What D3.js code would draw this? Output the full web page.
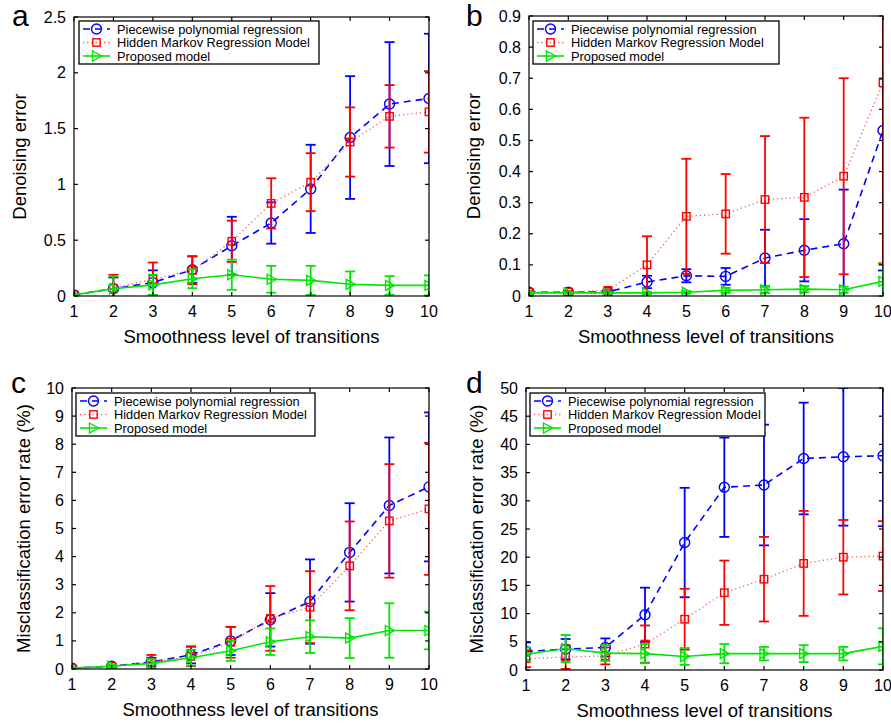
<!DOCTYPE html>
<html>
<head>
<meta charset="utf-8">
<script src="https://cdn.jsdelivr.net/npm/d3@7"></script>
<style>
  body { margin: 0; background: #fff; }
  svg { display: block; font-family: "Liberation Sans", Arial, sans-serif; }
</style>
</head>
<body>
<svg id="chart" width="891" height="723"></svg>
<script>
// Smoothness levels (x axis)
const levels = [1, 2, 3, 4, 5, 6, 7, 8, 9, 10];
const seriesNames = ["Piecewise polynomial regression", "Hidden Markov Regression Model", "Proposed model"];

// Panel a: denoising error
const aPprMean = [0.01, 0.066, 0.12, 0.236, 0.45, 0.654, 0.96, 1.42, 1.72, 1.77];
const aPprStd  = [0.005, 0.10, 0.11, 0.12, 0.26, 0.185, 0.395, 0.55, 0.555, 0.58];
const aHmmMean = [0.01, 0.07, 0.15, 0.23, 0.49, 0.83, 1.02, 1.38, 1.61, 1.65];
const aHmmStd  = [0.005, 0.12, 0.15, 0.125, 0.185, 0.225, 0.26, 0.31, 0.28, 0.365];
const aPropMean = [0.01, 0.065, 0.10, 0.155, 0.19, 0.15, 0.14, 0.105, 0.095, 0.095];
const aPropStd  = [0.005, 0.11, 0.09, 0.085, 0.135, 0.12, 0.13, 0.115, 0.083, 0.09];

// Panel b: denoising error
const bPprMean = [0.012, 0.012, 0.013, 0.045, 0.065, 0.063, 0.122, 0.147, 0.168, 0.532];
const bPprStd  = [0.003, 0.003, 0.003, 0.02, 0.021, 0.027, 0.091, 0.10, 0.174, 0.45];
const bHmmMean = [0.012, 0.013, 0.018, 0.10, 0.256, 0.264, 0.31, 0.317, 0.385, 0.685];
const bHmmStd  = [0.003, 0.003, 0.004, 0.092, 0.185, 0.128, 0.204, 0.256, 0.315, 0.58];
const bPropMean = [0.01, 0.01, 0.01, 0.01, 0.012, 0.018, 0.02, 0.022, 0.02, 0.047];
const bPropStd  = [0.002, 0.002, 0.002, 0.003, 0.004, 0.008, 0.01, 0.01, 0.01, 0.055];

// Panel c: misclassification error rate (%)
const cPprMean = [0.03, 0.1, 0.25, 0.5, 1.0, 1.75, 2.4, 4.15, 5.82, 6.48];
const cPprStd  = [0.02, 0.05, 0.15, 0.3, 0.5, 0.95, 1.5, 1.75, 2.42, 2.65];
const cHmmMean = [0.03, 0.1, 0.25, 0.45, 0.95, 1.8, 2.2, 3.67, 5.27, 5.7];
const cHmmStd  = [0.02, 0.05, 0.25, 0.35, 0.55, 1.15, 1.28, 1.58, 2.02, 2.35];
const cPropMean = [0.03, 0.1, 0.2, 0.4, 0.65, 0.97, 1.15, 1.1, 1.37, 1.37];
const cPropStd  = [0.02, 0.05, 0.15, 0.28, 0.36, 0.47, 0.58, 0.71, 0.97, 0.67];

// Panel d: misclassification error rate (%)
const dPprMean = [3.3, 3.7, 4.0, 9.8, 22.6, 32.4, 32.8, 37.5, 37.8, 38.0];
const dPprStd  = [1.6, 1.8, 1.6, 4.8, 9.7, 8.8, 10.7, 9.9, 12.2, 12.5];
const dHmmMean = [2.0, 2.3, 2.5, 4.6, 9.0, 13.7, 16.1, 18.9, 20.0, 20.2];
const dHmmStd  = [1.5, 2.1, 1.5, 3.3, 5.4, 5.7, 7.5, 9.3, 6.6, 6.2];
const dPropMean = [2.8, 3.8, 3.0, 2.9, 2.4, 2.9, 2.9, 2.9, 2.9, 4.2];
const dPropStd  = [1.2, 2.4, 1.4, 1.7, 1.5, 1.7, 1.2, 1.5, 1.2, 3.2];

// y tick values per panel
const aTicks = [0, 0.5, 1, 1.5, 2, 2.5];
const bTicks = [0, 0.1, 0.2, 0.3, 0.4, 0.5, 0.6, 0.7, 0.8, 0.9];
const cTicks = [0, 1, 2, 3, 4, 5, 6, 7, 8, 9, 10];
const dTicks = [0, 5, 10, 15, 20, 25, 30, 35, 40, 45, 50];

const svg = d3.select("#chart");

// line styles for the three methods
const styles = [
    { color: "#0000ff", dash: "7,5", width: 1.6, lineColor: "#0000ff", marker: "circle" },
    { color: "#ff0000", dash: "1.2,3", width: 1.3, lineColor: "#ff5555", marker: "square" },
    { color: "#00e600", dash: null, width: 1.6, lineColor: "#00e600", marker: "triangle" }
];

function drawMarker(g, kind, x, y, color) {
    if (kind === "circle") {
        g.append("circle").attr("cx", x).attr("cy", y).attr("r", 5)
            .attr("fill", "none").attr("stroke", color).attr("stroke-width", 1.4);
    } else if (kind === "square") {
        g.append("rect").attr("x", x - 3.7).attr("y", y - 3.7)
            .attr("width", 7.4).attr("height", 7.4)
            .attr("fill", "none").attr("stroke", color).attr("stroke-width", 1.4);
    } else {
        g.append("path")
            .attr("d", `M${x - 4},${y - 5}L${x + 5},${y}L${x - 4},${y + 5}Z`)
            .attr("fill", "none").attr("stroke", color).attr("stroke-width", 1.4);
    }
}

function drawPanel(p) {
    const x = d3.scaleLinear().domain([1, 10]).range([p.left, p.right]);
    const y = d3.scaleLinear().domain([0, p.ymax]).range([p.bottom, p.top]);
    const g = svg.append("g");

    const clipId = "clip-" + p.letter;
    svg.append("clipPath").attr("id", clipId)
        .append("rect")
        .attr("x", p.left).attr("y", p.top)
        .attr("width", p.right - p.left).attr("height", p.bottom - p.top);

    const plot = g.append("g").attr("clip-path", `url(#${clipId})`);

    // series: error bars, line, markers
    p.series.forEach((s, i) => {
        const st = styles[i];
        const sg = plot.append("g");
        levels.forEach((lv, k) => {
            const cx = x(lv);
            const y1 = y(s.mean[k] - s.std[k]);
            const y2 = y(s.mean[k] + s.std[k]);
            sg.append("line").attr("x1", cx).attr("x2", cx).attr("y1", y1).attr("y2", y2)
                .attr("stroke", st.color).attr("stroke-width", 1.8);
            [y1, y2].forEach(yy => {
                sg.append("line").attr("x1", cx - 5).attr("x2", cx + 5).attr("y1", yy).attr("y2", yy)
                    .attr("stroke", st.color).attr("stroke-width", 1.8);
            });
        });
        const line = d3.line().x((d, k) => x(levels[k])).y(d => y(d));
        sg.append("path").datum(s.mean)
            .attr("d", line)
            .attr("fill", "none")
            .attr("stroke", st.lineColor)
            .attr("stroke-width", st.width)
            .attr("stroke-dasharray", st.dash);
        levels.forEach((lv, k) => drawMarker(sg, st.marker, x(lv), y(s.mean[k]), st.color));
    });

    // box with inward ticks on all sides
    const axes = g.append("g").attr("stroke", "#000").attr("stroke-width", 1.2);
    axes.append("rect")
        .attr("x", p.left).attr("y", p.top)
        .attr("width", p.right - p.left).attr("height", p.bottom - p.top)
        .attr("fill", "none");
    levels.forEach(lv => {
        axes.append("line").attr("x1", x(lv)).attr("x2", x(lv)).attr("y1", p.bottom).attr("y2", p.bottom - 4);
        axes.append("line").attr("x1", x(lv)).attr("x2", x(lv)).attr("y1", p.top).attr("y2", p.top + 4);
    });
    p.ticks.forEach(t => {
        axes.append("line").attr("x1", p.left).attr("x2", p.left + 4).attr("y1", y(t)).attr("y2", y(t));
        axes.append("line").attr("x1", p.right).attr("x2", p.right - 4).attr("y1", y(t)).attr("y2", y(t));
    });

    // tick labels
    levels.forEach(lv => {
        g.append("text").attr("x", x(lv)).attr("y", p.bottom + 21)
            .attr("text-anchor", "middle").attr("font-size", "16px").text(lv);
    });
    p.ticks.forEach(t => {
        g.append("text").attr("x", p.left - 8).attr("y", y(t))
            .attr("text-anchor", "end").attr("dominant-baseline", "central")
            .attr("font-size", "16px").text(t);
    });

    // axis labels
    g.append("text")
        .attr("x", (p.left + p.right) / 2).attr("y", p.bottom + 47)
        .attr("text-anchor", "middle").attr("font-size", "18.5px")
        .text("Smoothness level of transitions");
    g.append("text")
        .attr("transform", `translate(${p.left - p.ylabelOffset},${(p.top + p.bottom) / 2}) rotate(-90)`)
        .attr("text-anchor", "middle").attr("font-size", "18.5px")
        .text(p.ylabel);

    // panel letter
    g.append("text").attr("x", p.letterX).attr("y", p.letterY)
        .attr("font-size", "30px").text(p.letter);

    // legend
    const lg = g.append("g");
    lg.append("rect")
        .attr("x", p.legend[0]).attr("y", p.legend[1])
        .attr("width", p.legend[2]).attr("height", 43)
        .attr("fill", "#fff").attr("stroke", "#000").attr("stroke-width", 1.3);
    seriesNames.forEach((name, i) => {
        const st = styles[i];
        const ly = p.legend[1] + 8 + i * 13.5;
        const lx = p.legend[0] + 4;
        lg.append("line").attr("x1", lx).attr("x2", lx + 27).attr("y1", ly).attr("y2", ly)
            .attr("stroke", st.lineColor).attr("stroke-width", st.width)
            .attr("stroke-dasharray", st.dash);
        drawMarker(lg, st.marker, lx + 13.5, ly, st.color);
        lg.append("text").attr("x", lx + 34).attr("y", ly)
            .attr("dominant-baseline", "central").attr("font-size", "12.8px").text(name);
    });
}

const panels = [
    { letter: "a", left: 74, right: 429, top: 17, bottom: 296, ymax: 2.5, ticks: aTicks,
      ylabel: "Denoising error", ylabelOffset: 48, letterX: 12, letterY: 26, legend: [79, 21, 240],
      series: [{ mean: aPprMean, std: aPprStd }, { mean: aHmmMean, std: aHmmStd }, { mean: aPropMean, std: aPropStd }] },
    { letter: "b", left: 529, right: 883, top: 16, bottom: 296, ymax: 0.9, ticks: bTicks,
      ylabel: "Denoising error", ylabelOffset: 49, letterX: 466, letterY: 26, legend: [533, 21, 246],
      series: [{ mean: bPprMean, std: bPprStd }, { mean: bHmmMean, std: bHmmStd }, { mean: bPropMean, std: bPropStd }] },
    { letter: "c", left: 72, right: 429, top: 388, bottom: 669, ymax: 10, ticks: cTicks,
      ylabel: "Misclassification error rate (%)", ylabelOffset: 42, letterX: 11, letterY: 393, legend: [76, 393, 239],
      series: [{ mean: cPprMean, std: cPprStd }, { mean: cHmmMean, std: cHmmStd }, { mean: cPropMean, std: cPropStd }] },
    { letter: "d", left: 526, right: 883, top: 388, bottom: 670, ymax: 50, ticks: dTicks,
      ylabel: "Misclassification error rate (%)", ylabelOffset: 43, letterX: 466, letterY: 393, legend: [530, 393, 235],
      series: [{ mean: dPprMean, std: dPprStd }, { mean: dHmmMean, std: dHmmStd }, { mean: dPropMean, std: dPropStd }] }
];

panels.forEach(drawPanel);
</script>
</body>
</html>
